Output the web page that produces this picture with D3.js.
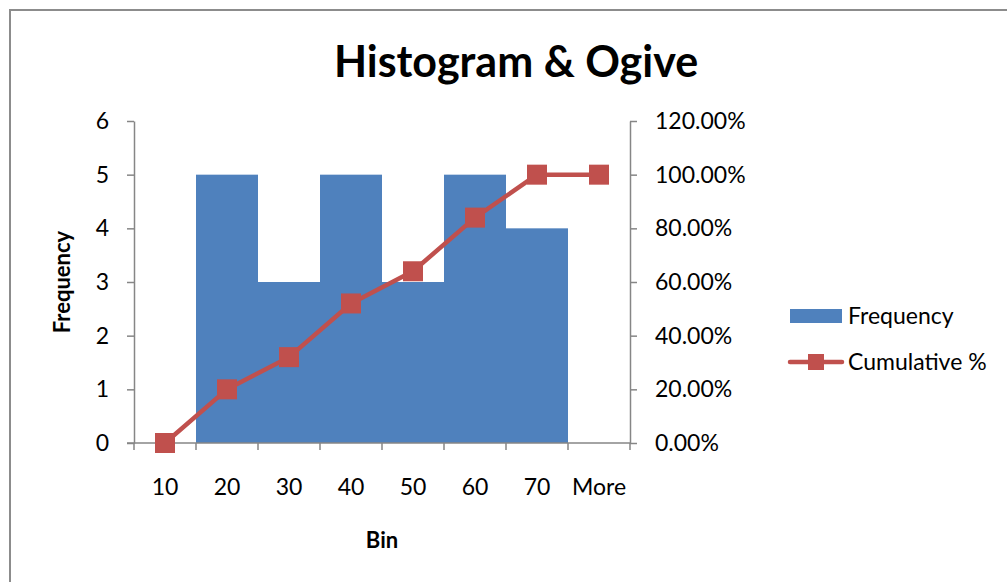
<!DOCTYPE html>
<html>
<head>
<meta charset="utf-8">
<script src="https://cdn.jsdelivr.net/npm/d3@7"></script>
<style>
  body { margin: 0; background: #fff; }
  text { font-family: "Lato", "Open Sans", sans-serif; }
</style>
</head>
<body>
<div id="chart"></div>
<script>
// data
bins = ["10", "20", "30", "40", "50", "60", "70", "More"]
frequency = [0, 5, 3, 5, 3, 5, 4, 0]
cumulative = [0, 0.20, 0.32, 0.52, 0.64, 0.84, 1.00, 1.00]
freqTicks = [0, 1, 2, 3, 4, 5, 6]
pctTicks = [0, 0.2, 0.4, 0.6, 0.8, 1.0, 1.2]

width = 1007
height = 582
margin = ({ top: 121, right: 377, bottom: 139, left: 134 })
blue = "#4F81BD"
red = "#C0504D"
axisGrey = "#868686"
fontSize = 23

x = d3.scaleBand()
   .domain(bins)
   .range([margin.left, width - margin.right])
   .padding(0)

y = d3.scaleLinear()
   .domain([0, 6])
   .range([height - margin.bottom, margin.top])

y2 = d3.scaleLinear()
   .domain([0, 1.2])
   .range([height - margin.bottom, margin.top])

const svg = d3.select("#chart").append("svg")
   .attr("width", width)
   .attr("height", height)

// chart frame
svg.append("rect")
   .attr("x", 10).attr("y", 10)
   .attr("width", width + 10).attr("height", height + 10)
   .attr("fill", "none")
   .attr("stroke", "#8c8c8c")
   .attr("stroke-width", 2)

svg.append("text")
   .attr("x", 516).attr("y", 77)
   .attr("text-anchor", "middle")
   .attr("font-size", 43)
   .attr("font-weight", "bold")
   .text("Histogram & Ogive")

// bars
svg.append("g")
   .attr("fill", blue)
   .selectAll("rect")
   .data(frequency)
   .join("rect")
   .attr("x", (d, i) => x(bins[i]))
   .attr("y", d => y(d))
   .attr("width", x.bandwidth())
   .attr("height", d => y(0) - y(d))

// axes
styleAxis = g => {
   g.selectAll(".domain").attr("stroke", axisGrey).attr("stroke-width", 1.5)
   g.selectAll(".tick line").attr("stroke", axisGrey).attr("stroke-width", 1.5)
   g.selectAll(".tick text").attr("fill", "#000").attr("font-size", fontSize)
      .attr("font-family", "Lato, 'Open Sans', sans-serif")
}

svg.append("g")
   .attr("transform", `translate(${margin.left},0)`)
   .call(d3.axisLeft(y).tickValues(freqTicks).tickSize(7).tickPadding(18)
      .tickFormat(d3.format("d")).tickSizeOuter(0))
   .call(styleAxis)

svg.append("g")
   .attr("transform", `translate(${width - margin.right},0)`)
   .call(d3.axisRight(y2).tickValues(pctTicks).tickSize(7).tickPadding(18)
      .tickFormat(d => d3.format(".2f")(d * 100) + "%").tickSizeOuter(0))
   .call(styleAxis)

// x axis: ticks sit between categories
const xg = svg.append("g")
   .attr("transform", `translate(0,${y(0)})`)
xg.append("line")
   .attr("x1", margin.left - 7).attr("x2", width - margin.right)
   .attr("stroke", axisGrey).attr("stroke-width", 1.5)
xg.selectAll("line.tk")
   .data(bins.concat([null]))
   .join("line")
   .attr("class", "tk")
   .attr("x1", (d, i) => margin.left + i * x.step())
   .attr("x2", (d, i) => margin.left + i * x.step())
   .attr("y2", 7)
   .attr("stroke", axisGrey).attr("stroke-width", 1.5)
xg.selectAll("text")
   .data(bins)
   .join("text")
   .attr("x", d => x(d) + x.bandwidth() / 2)
   .attr("y", 52)
   .attr("text-anchor", "middle")
   .attr("font-size", fontSize)
   .text(d => d)

// ogive line
line = d3.line()
   .x((d, i) => x(bins[i]) + x.bandwidth() / 2)
   .y(d => y2(d))

svg.append("path")
   .datum(cumulative)
   .attr("fill", "none")
   .attr("stroke", red)
   .attr("stroke-width", 4.5)
   .attr("stroke-linejoin", "round")
   .attr("d", line)

svg.append("g")
   .attr("fill", red)
   .selectAll("rect")
   .data(cumulative)
   .join("rect")
   .attr("x", (d, i) => x(bins[i]) + x.bandwidth() / 2 - 10)
   .attr("y", d => y2(d) - 10)
   .attr("width", 20)
   .attr("height", 20)

// axis titles
svg.append("text")
   .attr("transform", `translate(70,${(y(0) + y(6)) / 2}) rotate(-90)`)
   .attr("text-anchor", "middle")
   .attr("font-size", 22)
   .attr("font-weight", "bold")
   .text("Frequency")

svg.append("text")
   .attr("x", 382).attr("y", 548)
   .attr("text-anchor", "middle")
   .attr("font-size", 22)
   .attr("font-weight", "bold")
   .text("Bin")

// legend
const legend = svg.append("g")
legend.append("rect")
   .attr("x", 790).attr("y", 309)
   .attr("width", 52).attr("height", 14)
   .attr("fill", blue)
legend.append("text")
   .attr("x", 848).attr("y", 324)
   .attr("font-size", fontSize)
   .text("Frequency")
legend.append("line")
   .attr("x1", 790).attr("x2", 842)
   .attr("y1", 362).attr("y2", 362)
   .attr("stroke", red).attr("stroke-width", 4.5)
   .attr("stroke-linecap", "round")
legend.append("rect")
   .attr("x", 808).attr("y", 354)
   .attr("width", 16).attr("height", 16)
   .attr("fill", red)
legend.append("text")
   .attr("x", 848).attr("y", 370)
   .attr("font-size", fontSize)
   .text("Cumulative %")
</script>
</body>
</html>
